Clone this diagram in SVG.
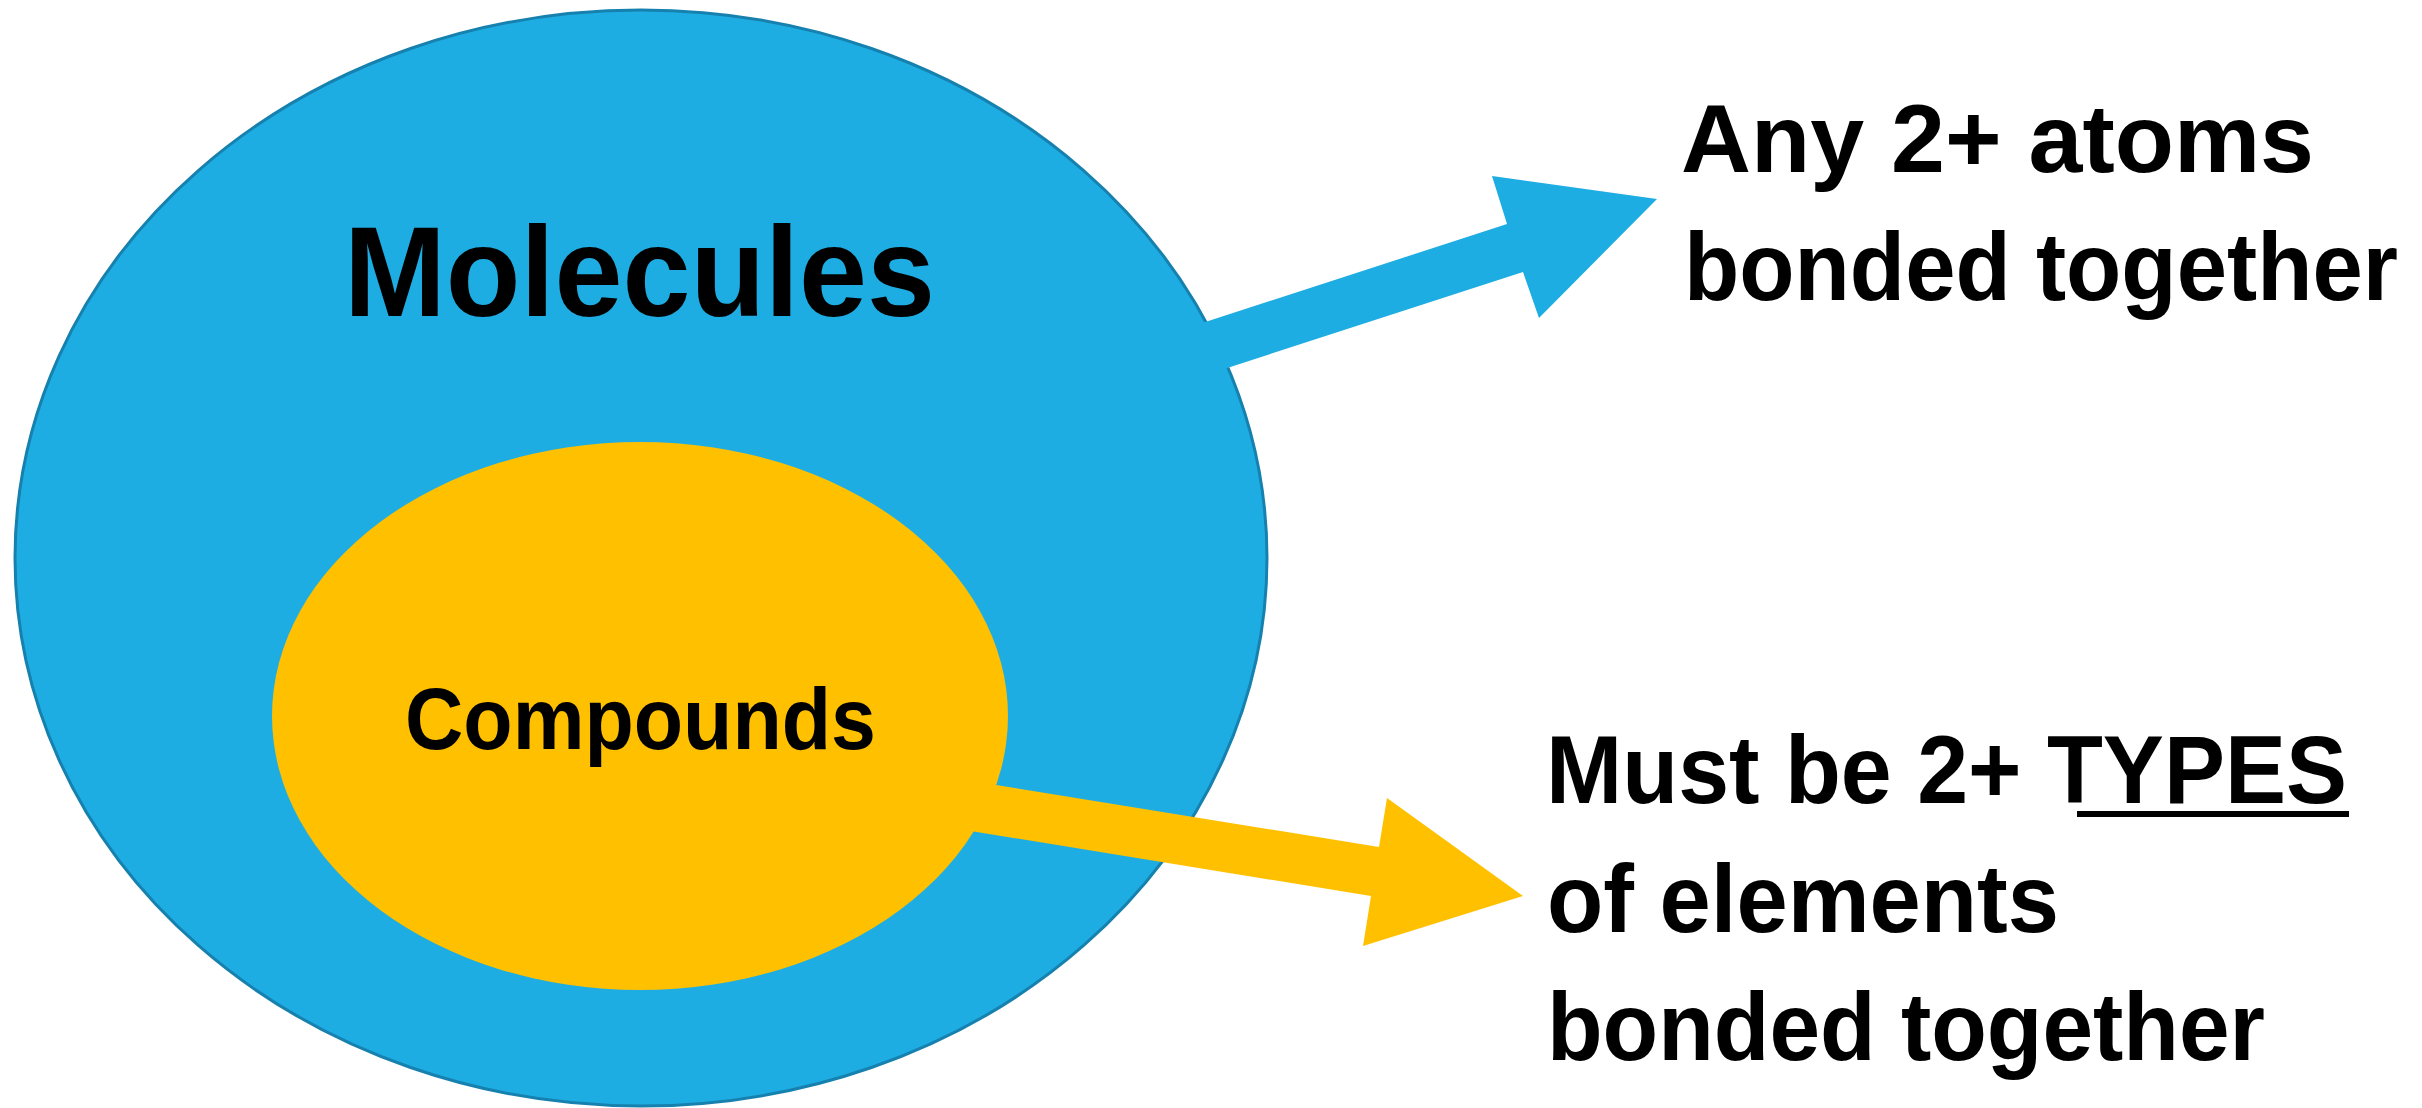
<svg xmlns="http://www.w3.org/2000/svg" width="2422" height="1108" viewBox="0 0 2422 1108">
<style>
.lbl{font-family:"Liberation Sans",Arial,sans-serif;font-weight:bold;fill:#000}
.blue{fill:#1EADE2}
.yellow{fill:#FFC000}
</style>
<rect width="2422" height="1108" fill="#fff"/>
<g id="molecules">
<ellipse class="blue" cx="641" cy="558" rx="626" ry="548" stroke="#1681AE" stroke-width="3"/>
<text class="lbl" x="344" y="316" font-size="128" textLength="591" lengthAdjust="spacingAndGlyphs">Molecules</text>
</g>
<g id="compounds">
<ellipse class="yellow" cx="640" cy="716" rx="368" ry="274"/>
<text class="lbl" x="405" y="749" font-size="87" textLength="471" lengthAdjust="spacingAndGlyphs">Compounds</text>
</g>
<g id="molecule-definition">
<text class="lbl" x="1681" y="172" font-size="96" textLength="633" lengthAdjust="spacingAndGlyphs">Any 2+ atoms</text>
<text class="lbl" x="1684" y="300" font-size="96" textLength="714" lengthAdjust="spacingAndGlyphs">bonded together</text>
</g>
<g id="compound-definition">
<text class="lbl" x="1546" y="803" font-size="96" textLength="801" lengthAdjust="spacingAndGlyphs">Must be 2+ TYPES</text>
<rect x="2077" y="811" width="272" height="6" fill="#000"/>
<text class="lbl" x="1547" y="932" font-size="96" textLength="512" lengthAdjust="spacingAndGlyphs">of elements</text>
<text class="lbl" x="1547" y="1060" font-size="96" textLength="718" lengthAdjust="spacingAndGlyphs">bonded together</text>
</g>
<g id="connectors">
<polygon class="blue" points="1150,340 1507,224 1492,176 1657,199 1539,318 1523,272 1150,393"/>
<polygon class="yellow" points="940,776 1379,847 1387,798 1523,896 1363,946 1371,896 940,826"/>
</g>
</svg>
